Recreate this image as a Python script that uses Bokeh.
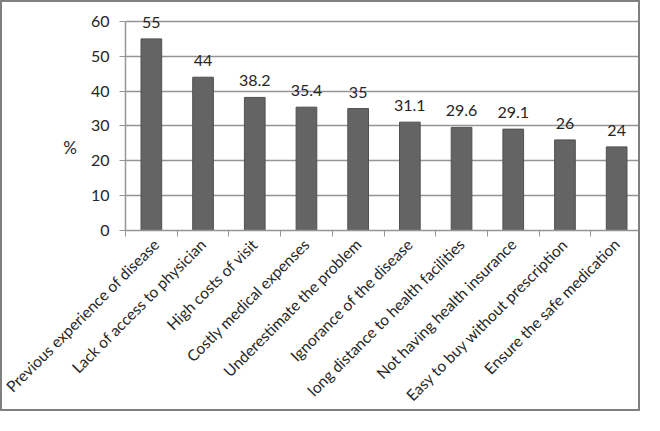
import math
from bokeh.plotting import figure
from bokeh.models import ColumnDataSource, LabelSet, FixedTicker
from bokeh.core.properties import value
from bokeh.embed import file_html
from bokeh.resources import INLINE

categories = [
    "Previous experience of disease",
    "Lack of access to physician",
    "High costs of visit",
    "Costly medical expenses",
    "Underestimate the problem",
    "Ignorance of the disease",
    "long distance to health facilities",
    "Not having health insurance",
    "Easy to buy without prescription",
    "Ensure the safe medication",
]
values = [55, 44, 38.2, 35.4, 35, 31.1, 29.6, 29.1, 26, 24]
y_ticks = [0, 10, 20, 30, 40, 50, 60]
y_title = "%"

FONT = "Lato"
TEXT = "#262626"
GRID = "#959595"

n = len(categories)
xs = list(range(n))
src = ColumnDataSource(dict(x=xs, top=values, label=[f"{v:g}" for v in values]))

p = figure(width=640, height=411, output_backend="svg", toolbar_location=None,
           x_range=(-0.5, n - 0.5), y_range=(0, 62),
           min_border_left=123, min_border_right=0, min_border_top=12,
           min_border_bottom=183)
p.styles = {"border": "2px solid #808080"}
p.outline_line_color = None

p.vbar(x="x", top="top", width=0.4, source=src,
       fill_color="#646464", line_color="#505050", line_width=1)

labels = LabelSet(x="x", y="top", text="label", source=src,
                  text_align="center", text_baseline="alphabetic",
                  y_offset=11, text_font_size="16px", text_color=TEXT,
                  text_font=value(FONT))
p.add_layout(labels)

# x axis
p.xaxis.ticker = FixedTicker(ticks=xs, minor_ticks=[i - 0.5 for i in range(n + 1)])
p.xaxis.major_label_overrides = {i: c for i, c in enumerate(categories)}
p.xaxis.major_tick_out = 0
p.xaxis.major_tick_in = 0
p.xaxis.minor_tick_out = 6
p.xaxis.minor_tick_in = 0
p.xaxis.minor_tick_line_color = GRID
p.xaxis.axis_line_color = GRID
p.xaxis.axis_line_width = 1.5
p.xaxis.major_label_orientation = math.pi / 4
p.xaxis.major_label_standoff = 5
p.xaxis.major_label_text_font = FONT
p.xaxis.major_label_text_font_size = "15.5px"
p.xaxis.major_label_text_color = TEXT

# y axis
p.yaxis.ticker = FixedTicker(ticks=y_ticks)
p.yaxis.bounds = (min(y_ticks), max(y_ticks))
p.yaxis.minor_tick_line_color = None
p.yaxis.major_tick_out = 6
p.yaxis.major_tick_in = 0
p.yaxis.major_tick_line_color = GRID
p.yaxis.axis_line_color = GRID
p.yaxis.axis_line_width = 1.5
p.yaxis.major_label_standoff = 10
p.yaxis.major_label_text_font = FONT
p.yaxis.major_label_text_font_size = "16px"
p.yaxis.major_label_text_color = TEXT
p.yaxis.axis_label = "\n\n" + y_title
p.yaxis.axis_label_orientation = "horizontal"
p.yaxis.axis_label_text_font = FONT
p.yaxis.axis_label_text_font_size = "17px"
p.yaxis.axis_label_text_font_style = "normal"
p.yaxis.axis_label_text_color = TEXT
p.yaxis.axis_label_standoff = 11

p.xgrid.grid_line_color = None
p.ygrid.grid_line_color = GRID
p.ygrid.grid_line_width = 1.5

open("out.html", "w").write(file_html(p, INLINE))
